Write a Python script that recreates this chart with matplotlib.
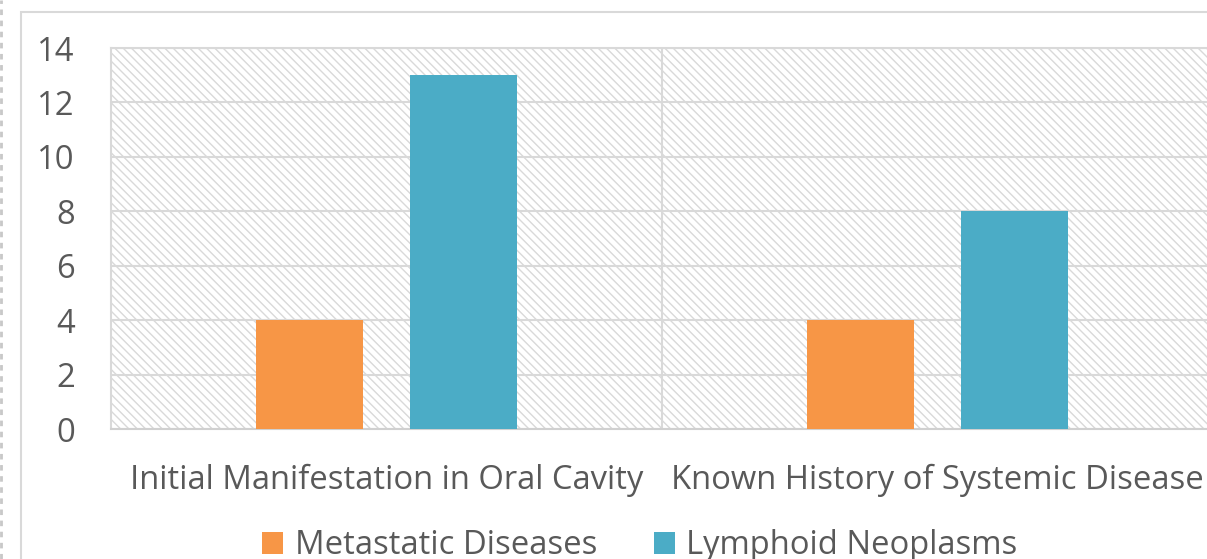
import matplotlib
matplotlib.use("Agg")
from matplotlib import pyplot as plt
from matplotlib.patches import Rectangle
from matplotlib.lines import Line2D
import numpy as np

categories = ["Initial Manifestation in Oral Cavity", "Known History of Systemic Disease"]
series_names = ["Metastatic Diseases", "Lymphoid Neoplasms"]
metastatic = [4, 4]
lymphoid = [13, 8]
colors = ["#F79646", "#4BACC6"]
yticks = [0, 2, 4, 6, 8, 10, 12, 14]

plt.rcParams['font.family'] = ['Open Sans', 'DejaVu Sans']
plt.rcParams['hatch.color'] = "#d9d9d9"
text_color = "#595959"
grid_color = "#d9d9d9"
fs = 23.6

W, H = 1207, 559
fig = plt.figure(figsize=(W / 100, H / 100), dpi=100)

# outer chart frame and dashed page edge
fig.patches.append(Rectangle((21 / W, -0.1), 1.2, 1 - 12 / H + 0.1, transform=fig.transFigure,
                             fill=False, edgecolor=grid_color, linewidth=1.5))
fig.lines.append(Line2D([1 / W, 1 / W], [0, 1], transform=fig.transFigure,
                        color="#c8c8c8", linewidth=2, linestyle=(0, (2, 2))))

ax = fig.add_axes([111 / W, 1 - 429 / H, (1213 - 111) / W, 381 / H])
ax.set_zorder(2)

# hatched plot area background
ax.add_patch(Rectangle((0, 0), 1, 1, transform=ax.transAxes, facecolor="white",
                       edgecolor=grid_color, hatch="\\\\\\\\", linewidth=0, zorder=0))

x = np.arange(len(categories))
width = 0.194
off = 0.1405
ax.bar(x - off, metastatic, width, color=colors[0], label=series_names[0], zorder=3)
ax.bar(x + off, lymphoid, width, color=colors[1], label=series_names[1], zorder=3)

ax.set_xlim(-0.5, len(categories) - 0.5)
ax.set_ylim(0, 14)
ax.set_yticks(yticks)
ax.set_xticks(x)
ax.set_xticklabels(categories)
ax.yaxis.grid(True, color=grid_color, linewidth=1.5, zorder=1)
ax.set_axisbelow(True)
for xb in np.arange(0.5, len(categories) - 0.5):
    ax.axvline(xb, color=grid_color, linewidth=1.5, zorder=1)

for s in ax.spines.values():
    s.set_color(grid_color)
    s.set_linewidth(1.5)
ax.spines['bottom'].set_color("#d0d0d0")
ax.tick_params(axis="both", length=0, colors=text_color, labelsize=fs)
ax.tick_params(axis="x", pad=25)
ax.tick_params(axis="y", pad=26)

fig.legend(loc="center", bbox_to_anchor=(640 / W, 1 - 546 / H), ncol=2, frameon=False,
           fontsize=fs, labelcolor=text_color, handlelength=0.64, handleheight=0.64,
           handletextpad=0.34, columnspacing=1.75)

fig.savefig("out.png", dpi=100)
